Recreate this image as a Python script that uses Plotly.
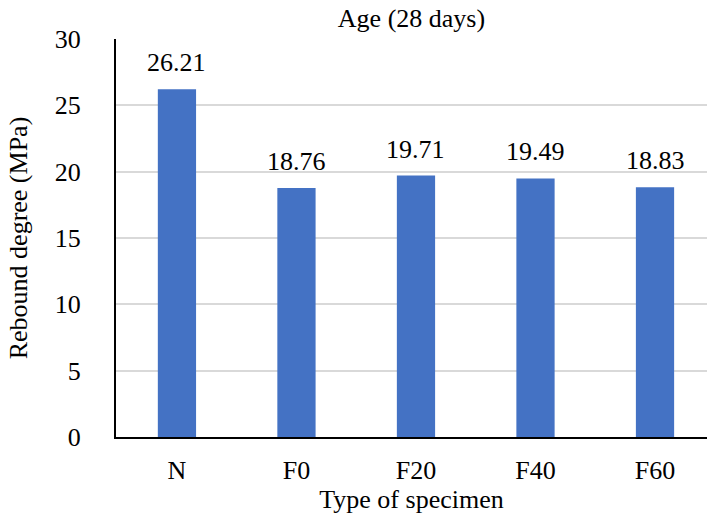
import plotly.graph_objects as go

specimens = ["N", "F0", "F20", "F40", "F60"]
rebound = [26.21, 18.76, 19.71, 19.49, 18.83]
y_ticks = [0, 5, 10, 15, 20, 25, 30]

FONT = "Liberation Serif"
FS = 26
BAR_COLOR = "#4472C4"

fig = go.Figure()
fig.add_trace(go.Bar(
    x=specimens,
    y=rebound,
    marker=dict(color=BAR_COLOR, line=dict(width=0)),
    width=0.32,
))

# value labels above each bar
for s, v in zip(specimens, rebound):
    fig.add_annotation(
        x=s, y=v, text=f"{v:.2f}", showarrow=False,
        yanchor="bottom", yshift=10,
        font=dict(family=FONT, size=FS, color="#000000"),
    )

fig.update_layout(
    width=707, height=518,
    margin=dict(l=116, r=0, t=39, b=81),
    paper_bgcolor="white", plot_bgcolor="white",
    showlegend=False,
    font=dict(family=FONT, size=FS, color="#000000"),
    title=dict(
        text="Age (28 days)", x=(116 + 707) / 2 / 707, xanchor="center",
        y=1 - 18 / 518, yanchor="middle",
        font=dict(family=FONT, size=FS, color="#000000"),
    ),
    xaxis=dict(
        range=[-0.51, 4.435],
        showline=True, linecolor="#000000", linewidth=2,
        ticks="", showgrid=False,
        ticklabelstandoff=9,
        title=dict(text="Type of specimen", standoff=0,
                   font=dict(family=FONT, size=FS)),
        tickfont=dict(family=FONT, size=FS),
    ),
    yaxis=dict(
        range=[0, 30], tickvals=y_ticks,
        showline=True, linecolor="#000000", linewidth=2,
        showgrid=True, gridcolor="#d9d9d9", gridwidth=1.5,
        zeroline=False, ticks="",
        ticklabelstandoff=28,
        title=dict(text="Rebound degree (MPa)", standoff=20,
                   font=dict(family=FONT, size=FS)),
        tickfont=dict(family=FONT, size=FS),
    ),
)

fig.write_html("out.html")
